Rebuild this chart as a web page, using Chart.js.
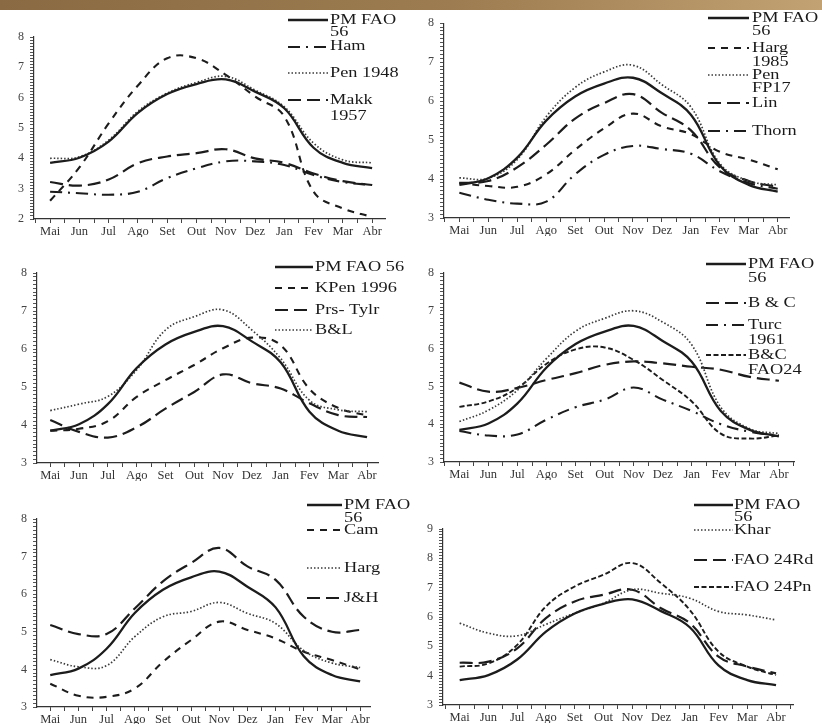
<!DOCTYPE html>
<html>
<head>
<meta charset="utf-8">
<script src="https://cdn.jsdelivr.net/npm/chart.js@4/dist/chart.umd.min.js"></script>
<style>
  html, body { margin: 0; padding: 0; background: #fff; width: 822px; height: 724px; overflow: hidden; position: relative; }
  .band { position: absolute; left: 0; top: 0; width: 822px; height: 10px;
          background: linear-gradient(90deg, #8a6a42 0%, #9c7c50 55%, #c2a272 100%); }
  canvas { position: absolute; }
</style>
</head>
<body>
<div class="band"></div>
<canvas id="c1"></canvas>
<canvas id="c2"></canvas>
<canvas id="c3"></canvas>
<canvas id="c4"></canvas>
<canvas id="c5"></canvas>
<canvas id="c6"></canvas>
<script>
const months = ["Mai", "Jun", "Jul", "Ago", "Set", "Out", "Nov", "Dez", "Jan", "Fev", "Mar", "Abr"];

// PM FAO 56 is the same reference curve in every panel
const pmFao56 = [3.85, 4.02, 4.55, 5.5, 6.12, 6.45, 6.6, 6.2, 5.65, 4.35, 3.85, 3.68];

// panel 1
const pen1948 = [4.0, 4.05, 4.6, 5.55, 6.15, 6.5, 6.7, 6.25, 5.7, 4.5, 3.95, 3.85];
const ham = [2.9, 2.85, 2.8, 2.9, 3.35, 3.67, 3.9, 3.9, 3.78, 3.45, 3.22, 3.12];
const makk1957 = [3.22, 3.1, 3.3, 3.84, 4.06, 4.17, 4.3, 4.0, 3.85, 3.5, 3.25, 3.12];
const p1Unnamed = [2.6, 3.7, 5.15, 6.4, 7.3, 7.3, 6.75, 6.04, 5.38, 2.9, 2.35, 2.07];

// panel 2
const harg1985 = [3.9, 3.82, 3.8, 4.12, 4.75, 5.3, 5.68, 5.35, 5.15, 4.7, 4.5, 4.25];
const penFp17 = [4.03, 4.02, 4.5, 5.6, 6.35, 6.75, 6.92, 6.42, 5.85, 4.4, 3.95, 3.85];
const lin = [3.9, 3.95, 4.3, 4.88, 5.55, 5.95, 6.18, 5.7, 5.25, 4.3, 3.95, 3.8];
const thorn = [3.65, 3.47, 3.37, 3.42, 4.12, 4.62, 4.85, 4.77, 4.65, 4.2, 3.9, 3.75];

// panel 3
const kpen1996 = [3.85, 3.9, 4.1, 4.74, 5.18, 5.58, 6.02, 6.3, 6.1, 4.95, 4.45, 4.25];
const prsTylr = [4.13, 3.82, 3.67, 3.94, 4.43, 4.87, 5.33, 5.1, 4.96, 4.57, 4.26, 4.21];
const bL = [4.38, 4.55, 4.75, 5.45, 6.5, 6.85, 7.03, 6.5, 5.75, 4.65, 4.4, 4.35];

// panel 4
const bC = [5.1, 4.86, 4.96, 5.17, 5.35, 5.57, 5.66, 5.61, 5.52, 5.44, 5.25, 5.15];
const turc1961 = [3.82, 3.7, 3.73, 4.12, 4.45, 4.65, 4.97, 4.65, 4.35, 4.0, 3.8, 3.7];
const bC2 = [4.46, 4.6, 4.96, 5.6, 5.98, 6.03, 5.7, 5.17, 4.6, 3.75, 3.62, 3.7];
const fao24 = [4.07, 4.37, 4.9, 5.74, 6.46, 6.8, 7.0, 6.7, 6.1, 4.45, 3.88, 3.75];

// panel 5
const cam = [3.62, 3.3, 3.27, 3.49, 4.2, 4.78, 5.27, 5.05, 4.82, 4.47, 4.25, 4.0];
const harg = [4.26, 4.07, 4.1, 4.87, 5.4, 5.54, 5.78, 5.49, 5.22, 4.5, 4.17, 4.05];
const jH = [5.18, 4.94, 4.94, 5.62, 6.34, 6.83, 7.23, 6.74, 6.38, 5.4, 5.0, 5.05];

// panel 6
const khar = [5.79, 5.45, 5.36, 5.75, 6.13, 6.47, 6.93, 6.81, 6.64, 6.19, 6.07, 5.9];
const fao24Rd = [4.44, 4.48, 4.93, 5.96, 6.53, 6.76, 6.93, 6.3, 5.79, 4.65, 4.31, 4.08];
const fao24Pn = [4.31, 4.42, 5.05, 6.36, 7.04, 7.44, 7.84, 7.15, 6.24, 4.82, 4.31, 4.02];

const YW = 30, XH = 18;
const INK = "#1c1c1c";
const STYLES = {
  solid:   { dash: [], width: 2.3, color: INK },
  long:    { dash: [13, 6], width: 2.2, color: INK },
  short:   { dash: [7, 6], width: 2.1, color: INK },
  dense:   { dash: [5, 2.5], width: 1.9, color: INK },
  dot:     { dash: [1.5, 2], width: 1.7, color: "#3a3a3a" },
  dashdot: { dash: [12, 6, 2, 6], width: 2.1, color: INK }
};

const panels = [
  { id: "c1", box: [0, 10, 411], area: [34, 37, 385, 219], x: [-0.55, 11.44], y: [2, 8],
    series: [[pmFao56, "solid"], [pen1948, "dot"], [p1Unnamed, "short"], [makk1957, "long"], [ham, "dashdot"]],
    legend: { sx: [288, 328], tx: 330, rows: [
      ["solid", 20, [["PM FAO", 20], ["56", 32]]],
      ["dashdot", 47, [["Ham", 46]]],
      ["dot", 73, [["Pen 1948", 73]]],
      ["long", 100, [["Makk", 100], ["1957", 116]]]
    ] } },
  { id: "c2", box: [411, 10, 411], area: [444, 20, 789, 218], x: [-0.53, 11.39], y: [3, 8],
    series: [[pmFao56, "solid"], [penFp17, "dot"], [harg1985, "short"], [lin, "long"], [thorn, "dashdot"]],
    legend: { sx: [708, 749], tx: 752, rows: [
      ["solid", 18, [["PM FAO", 18], ["56", 31]]],
      ["short", 48, [["Harg", 48], ["1985", 62]]],
      ["dot", 75, [["Pen", 75], ["FP17", 88]]],
      ["long", 103, [["Lin", 103]]],
      ["dashdot", 131, [["Thorn", 131]]]
    ] } },
  { id: "c3", box: [0, 240, 411], area: [37, 273, 378, 463], x: [-0.46, 11.38], y: [3, 8],
    series: [[pmFao56, "solid"], [bL, "dot"], [kpen1996, "short"], [prsTylr, "long"]],
    legend: { sx: [275, 313], tx: 315, rows: [
      ["solid", 267, [["PM FAO 56", 267]]],
      ["short", 288, [["KPen 1996", 288]]],
      ["long", 310, [["Prs- Tylr", 310]]],
      ["dot", 330, [["B&L", 330]]]
    ] } },
  { id: "c4", box: [411, 240, 411], area: [444, 273, 794, 462], x: [-0.53, 11.52], y: [3, 8],
    series: [[pmFao56, "solid"], [fao24, "dot"], [bC2, "dense"], [bC, "long"], [turc1961, "dashdot"]],
    legend: { sx: [706, 746], tx: 748, rows: [
      ["solid", 264, [["PM FAO", 264], ["56", 278]]],
      ["long", 303, [["B & C", 303]]],
      ["dashdot", 325, [["Turc", 325], ["1961", 340]]],
      ["dense", 355, [["B&C", 355]]],
      [null, 370, [["FAO24", 370]]]
    ] } },
  { id: "c5", box: [0, 480, 411], area: [37, 519, 370, 707], x: [-0.47, 11.35], y: [3, 8],
    series: [[pmFao56, "solid"], [harg, "dot"], [cam, "short"], [jH, "long"]],
    legend: { sx: [307, 342], tx: 344, rows: [
      ["solid", 505, [["PM FAO", 505], ["56", 518]]],
      ["short", 530, [["Cam", 530]]],
      ["dot", 568, [["Harg", 568]]],
      ["long", 598, [["J&H", 598]]]
    ] } },
  { id: "c6", box: [411, 480, 411], area: [443, 529, 793, 705], x: [-0.58, 11.59], y: [3, 9],
    series: [[pmFao56, "solid"], [khar, "dot"], [fao24Pn, "dense"], [fao24Rd, "long"]],
    legend: { sx: [694, 733], tx: 734, rows: [
      ["solid", 505, [["PM FAO", 505], ["56", 517]]],
      ["dot", 530, [["Khar", 530]]],
      ["long", 560, [["FAO 24Rd", 560]]],
      ["dense", 587, [["FAO 24Pn", 587]]]
    ] } }
];

const xTickValues = [];
for (let v = -0.5; v <= 11.5; v += 0.5) xTickValues.push(v);

const legendOf = {};

const sideLegend = {
  id: "sideLegend",
  afterDraw(chart) {
    const lg = legendOf[chart.canvas.id];
    if (!lg) return;
    const ctx = chart.ctx;
    ctx.save();
    for (const [style, sy, lines] of lg.rows) {
      if (style) {
        const st = STYLES[style];
        ctx.beginPath();
        ctx.setLineDash(st.dash);
        ctx.lineWidth = st.width;
        ctx.strokeStyle = st.color;
        ctx.moveTo(lg.sx[0] - lg.ox, sy - lg.oy);
        ctx.lineTo(lg.sx[1] - lg.ox, sy - lg.oy);
        ctx.stroke();
      }
      ctx.setLineDash([]);
      ctx.fillStyle = "#1a1a1a";
      ctx.font = '15px "Liberation Serif", serif';
      ctx.textBaseline = "middle";
      for (const [text, ty] of lines) {
        ctx.save();
        ctx.translate(lg.tx - lg.ox, ty - lg.oy);
        ctx.scale(1.22, 1);
        ctx.fillText(text, 0, 0);
        ctx.restore();
      }
    }
    ctx.restore();
  }
};

const xFont = { family: '"Liberation Serif", serif', size: 12.5 };
const yFont = { family: '"Liberation Serif", serif', size: 12 };

function makeChart(p) {
  const [cx, cy, cw] = p.box;
  const [l, t, r, b] = p.area;
  const ch = b + XH + 6 - cy;
  const canvas = document.getElementById(p.id);
  canvas.width = cw;
  canvas.height = ch;
  canvas.style.left = cx + "px";
  canvas.style.top = cy + "px";
  canvas.style.width = cw + "px";
  canvas.style.height = ch + "px";
  legendOf[p.id] = { ...p.legend, ox: cx, oy: cy };

  new Chart(canvas, {
    type: "line",
    data: {
      datasets: p.series.map(([vals, style]) => ({
        data: months.map((m, k) => ({ x: k, y: vals[k] })),
        borderColor: STYLES[style].color,
        borderWidth: STYLES[style].width,
        borderDash: STYLES[style].dash,
        pointRadius: 0,
        tension: 0.4,
        fill: false
      }))
    },
    options: {
      responsive: false,
      animation: false,
      devicePixelRatio: 1,
      layout: { padding: { left: l - cx - YW, top: t - cy, right: cx + cw - r, bottom: 6 } },
      plugins: { legend: { display: false }, tooltip: { enabled: false } },
      scales: {
        x: {
          type: "linear", min: p.x[0], max: p.x[1], bounds: "data",
          afterBuildTicks: (s) => { s.ticks = xTickValues.filter((v) => v >= s.min && v <= s.max).map((v) => ({ value: v })); },
          afterFit: (s) => { s.height = XH; },
          ticks: { autoSkip: false, maxRotation: 0, minRotation: 0, padding: 1, font: xFont, color: "#333",
                   callback: (v) => (Number.isInteger(v) ? months[v] : "") },
          grid: { drawOnChartArea: false, tickLength: 4, color: "#444" },
          border: { color: "#333", width: 1.2 }
        },
        y: {
          type: "linear", min: p.y[0], max: p.y[1],
          afterFit: (s) => { s.width = YW; },
          ticks: { stepSize: 0.1, autoSkip: false, padding: 6, font: yFont, color: "#444",
                   callback: (v) => (Number.isInteger(v) ? String(v) : "") },
          grid: { drawOnChartArea: false, tickLength: 4, color: "#555" },
          border: { color: "#333", width: 1.2 }
        }
      }
    },
    plugins: [sideLegend]
  });
}

panels.forEach(makeChart);
</script>
</body>
</html>
